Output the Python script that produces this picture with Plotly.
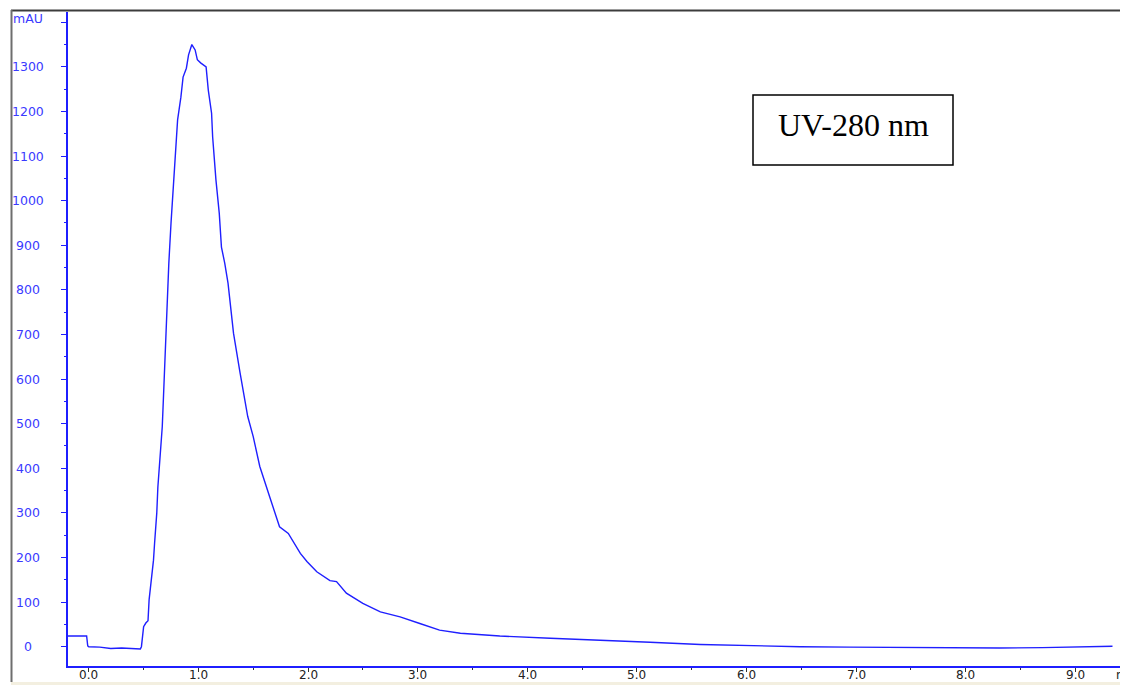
import plotly.graph_objects as go

# ---- data (retention time in min, absorbance in mAU) ----
time_min = [-0.19, -0.02, -0.01, 0.00, 0.10, 0.20, 0.30, 0.40, 0.47, 0.48, 0.49, 0.50,
            0.52, 0.54, 0.55, 0.57, 0.59, 0.60, 0.62, 0.63, 0.65, 0.67, 0.68, 0.70,
            0.73, 0.75, 0.77, 0.79, 0.81, 0.84, 0.86, 0.89, 0.91, 0.94, 0.97, 0.99,
            1.02, 1.07, 1.09, 1.12, 1.13, 1.16, 1.19, 1.21, 1.24, 1.27, 1.32, 1.38,
            1.45, 1.50, 1.56, 1.65, 1.74, 1.82, 1.93, 1.99, 2.08, 2.20, 2.26, 2.35,
            2.50, 2.66, 2.84, 3.02, 3.20, 3.39, 3.75, 4.21, 4.66, 5.12, 5.58, 6.03,
            6.49, 6.94, 7.60, 8.31, 8.70, 9.00, 9.20, 9.34]
absorbance_mau = [24, 24, 2, 0, -1, -4, -3, -5, -5, 0, 22, 45,
                  53, 58, 105, 150, 194, 232, 300, 358, 419, 493, 553, 680,
                  860, 950, 1024, 1084, 1181, 1232, 1277, 1297, 1327, 1350, 1338, 1316,
                  1309, 1300, 1248, 1196, 1142, 1046, 972, 896, 860, 815, 703, 614,
                  516, 471, 404, 336, 269, 254, 209, 191, 168, 148, 146, 120,
                  97, 78, 67, 52, 37, 30, 24, 19, 15, 10, 5, 2,
                  0, -1, -2, -3, -2, -1, 0, 1]

y_tick_vals = [0, 100, 200, 300, 400, 500, 600, 700, 800, 900, 1000, 1100, 1200, 1300, 1400]
y_tick_text = ["0", "100", "200", "300", "400", "500", "600", "700", "800", "900",
               "1000", "1100", "1200", "1300", "mAU"]
x_tick_vals = [0, 1, 2, 3, 4, 5, 6, 7, 8, 9]
x_tick_text = ["0.0", "1.0", "2.0", "3.0", "4.0", "5.0", "6.0", "7.0", "8.0", "9.0"]
x_unit = "min"
label_text = "UV-280 nm"

# ---- layout geometry (page pixels; the page body adds an 8 px offset) ----
OFF = 8
PAGE_W, PAGE_H = 1128, 685
W, H = PAGE_W - OFF, PAGE_H - OFF
AX_LEFT, AX_TOP, AX_BOTTOM = 68, 12, 666
L, R, T, B = AX_LEFT - OFF, 0, AX_TOP - OFF, PAGE_H - AX_BOTTOM
PW, PH = W - L - R, H - T - B
X_RANGE = [-0.19, -0.19 + PW / 109.6]
Y_RANGE = [-43.3, 1423]


def px(xpage):
    return (xpage - OFF - L) / PW


def py(ypage):
    return (H - B - (ypage - OFF)) / PH


BLUE = "#1f1fff"
LBLUE = "#3a3aff"
FS = 12.5

fig = go.Figure()
fig.add_trace(go.Scatter(x=time_min, y=absorbance_mau, mode="lines",
                         line=dict(color=BLUE, width=1.4), hoverinfo="skip",
                         showlegend=False))

fig.update_layout(
    width=W, height=H,
    margin=dict(l=L, r=R, t=T, b=B, pad=0),
    paper_bgcolor="white", plot_bgcolor="white",
    font=dict(family="DejaVu Sans", size=FS),
    xaxis=dict(range=X_RANGE, showgrid=False, zeroline=False,
               showline=True, linecolor=BLUE, linewidth=1.5,
               tickmode="array", tickvals=x_tick_vals, showticklabels=False,
               ticks="outside", ticklen=4, tickwidth=1, tickcolor="#333333",
               minor=dict(dtick=0.5, tick0=0, ticks="outside", ticklen=2,
                          tickcolor="#333333", showgrid=False)),
    yaxis=dict(range=Y_RANGE, showgrid=False, zeroline=False,
               showline=True, linecolor=BLUE, linewidth=1.5,
               tickmode="array", tickvals=y_tick_vals, showticklabels=False,
               ticks="outside", ticklen=5, tickwidth=1, tickcolor=BLUE,
               minor=dict(dtick=50, tick0=0, ticks="outside", ticklen=2,
                          tickcolor=BLUE, showgrid=False)),
)

annotations = []
for v, t in zip(y_tick_vals, y_tick_text):
    annotations.append(dict(x=px(28), xref="paper", y=v + (8 if t == "mAU" else 0),
                            yref="y", text=t, showarrow=False, xanchor="center",
                            yanchor="middle",
                            font=dict(family="DejaVu Sans", size=FS, color=LBLUE)))
for v, t in zip(x_tick_vals, x_tick_text):
    annotations.append(dict(x=v, xref="x", y=py(675), yref="paper", text=t,
                            showarrow=False, xanchor="center", yanchor="middle",
                            font=dict(family="DejaVu Sans", size=12, color="#222222")))
annotations.append(dict(x=px(1114), xref="paper", y=py(675), yref="paper",
                        text=x_unit, showarrow=False, xanchor="left", yanchor="middle",
                        font=dict(family="DejaVu Sans", size=12, color="#222222")))
annotations.append(dict(x=px(853), xref="paper", y=py(125), yref="paper",
                        text=label_text, showarrow=False, xanchor="center",
                        yanchor="middle",
                        font=dict(family="Liberation Serif", size=32, color="black")))
fig.update_layout(annotations=annotations)

shapes = [
    # text box
    dict(type="rect", xref="paper", yref="paper", x0=px(753), x1=px(953),
         y0=py(165), y1=py(95), line=dict(color="black", width=1.5),
         fillcolor="rgba(0,0,0,0)"),
    # bottom beige strip
    dict(type="rect", xref="paper", yref="paper", x0=px(11), x1=px(PAGE_W),
         y0=py(PAGE_H), y1=py(682), line=dict(width=0), fillcolor="#f3efe0"),
    # top frame line
    dict(type="line", xref="paper", yref="paper", x0=px(11), x1=px(PAGE_W),
         y0=py(10.5), y1=py(10.5), line=dict(color="#3c3c3c", width=2)),
    # left frame line
    dict(type="line", xref="paper", yref="paper", x0=px(11.5), x1=px(11.5),
         y0=py(10), y1=py(682), line=dict(color="#6e6e6e", width=2)),
]
fig.update_layout(shapes=shapes)

fig.write_html("out.html")
